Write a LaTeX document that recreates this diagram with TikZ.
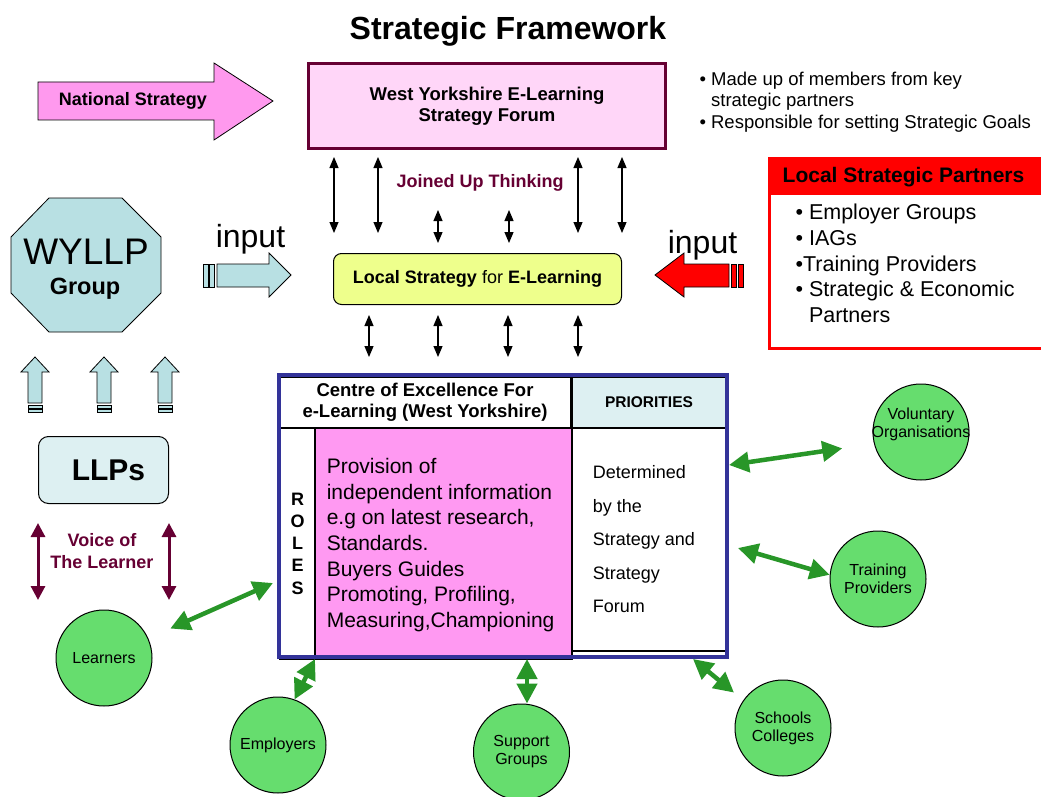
\documentclass[tikz,border=0pt]{standalone}
\usepackage{fontspec}
\setmainfont{Liberation Sans}
\usetikzlibrary{arrows.meta,positioning,calc}

\definecolor{forumpink}{RGB}{255,214,248}
\definecolor{natpink}{RGB}{255,153,238}
\definecolor{wymaroon}{RGB}{102,0,51}
\definecolor{limey}{RGB}{238,255,140}
\definecolor{paleblue}{RGB}{184,224,227}
\definecolor{iceblue}{RGB}{221,240,242}
\definecolor{rolepink}{RGB}{255,153,242}
\definecolor{coeblue}{RGB}{51,51,153}
\definecolor{circgreen}{RGB}{102,221,110}
\definecolor{arrgreen}{RGB}{40,150,40}

\newcommand{\setfs}[2]{\fontsize{#1}{#2}\selectfont}

\tikzstyle{box} = [draw, rectangle, align=center, inner sep=0pt]
\tikzstyle{cell} = [draw, rectangle, line width=1.5pt, inner sep=0pt, align=center]
\tikzstyle{member} = [draw, circle, line width=1pt, fill=circgreen, minimum size=96pt,
    inner sep=0pt, align=center, font=\setfs{16}{18}]
\tikzstyle{duplex} = [<->, line width=1.2pt]
\tikzstyle{greenduplex} = [<->, >={Triangle[length=20pt,width=20pt]}, line width=4.5pt, draw=arrgreen]
\tikzstyle{voiceduplex} = [<->, >={Triangle[length=14pt,width=14pt]}, line width=3pt, draw=wymaroon]
\tikzstyle{blockarrow} = [draw, line width=0.8pt]

\begin{document}
\begin{tikzpicture}[x=1pt, y=-1pt, >={Triangle[length=11pt,width=9pt]}]
    \useasboundingbox (0,0) rectangle (1041,797);

    \node [font=\setfs{32}{36}\bfseries, anchor=base] (title) at (508,40) {Strategic Framework};

    % top row: national strategy, forum, notes
    \draw [blockarrow, fill=natpink] (38,82) -- (214,82) -- (214,63) -- (273,101) -- (214,140) -- (214,120) -- (38,120) -- cycle;
    \node [font=\setfs{18}{21}\bfseries] (national) at (133,101) {National Strategy};
    \node [box, draw=wymaroon, line width=3pt, fill=forumpink, minimum width=357pt, minimum height=85pt,
        font=\setfs{18.5}{21}\bfseries] (forum) at (487,106) {West Yorkshire E-Learning\\Strategy Forum};
    \node [anchor=west, align=left, font=\setfs{18.5}{21.7}] (forumnotes) at (696,102)
        {• Made up of members from key\\\phantom{• }strategic partners\\• Responsible for setting Strategic Goals};

    % local strategic partners
    \node [fill=red, minimum width=290pt, minimum height=36.5pt, anchor=north west, inner sep=0pt, outer sep=0pt] (partnershead) at (769.5,158.5) {};
    \node [draw=red, line width=3pt, minimum width=290pt, minimum height=190pt, anchor=north west, inner sep=0pt, outer sep=0pt] (partners) at (769.5,158.5) {};
    \node [font=\setfs{21}{24}\bfseries] (partnerstitle) at (903.5,177) {Local Strategic Partners};
    \node [anchor=west, align=left, font=\setfs{21.5}{25.7}] (partnerlist) at (792,263.5)
        {• Employer Groups\\• IAGs\\•Training Providers\\• Strategic \& Economic\\\phantom{• }Partners};

    % local strategy and the links to the forum
    \node [font=\setfs{18}{21}\bfseries, text=wymaroon] (joined) at (480,183) {Joined Up Thinking};
    \node [box, rounded corners=8pt, fill=limey, line width=1pt, minimum width=288pt, minimum height=51pt,
        font=\setfs{18}{21}] (local) at (477.5,279) {\textbf{Local Strategy} for \textbf{E-Learning}};
    \foreach \dx in {-153,-109,91,135}
        \draw [duplex] ([xshift=\dx pt, yshift=-7pt]forum.south) -- ([xshift=\dx pt, yshift=20pt]forum.south |- local.north);
    \foreach \dx in {-39.5,31.5}
        \draw [duplex] ([xshift=\dx pt, yshift=43pt]local.north) -- ([xshift=\dx pt, yshift=10pt]local.north);

    % inputs
    \node [font=\setfs{32}{36}, anchor=base] (inleft) at (250.5,247) {input};
    \draw [blockarrow, fill=paleblue] (217,264) -- (269,264) -- (269,253) -- (291,275) -- (269,297) -- (269,287) -- (217,287) -- cycle;
    \draw [blockarrow, fill=paleblue] (203,264) rectangle (208,287);
    \draw [blockarrow, fill=paleblue] (209.5,264) rectangle (214.5,287);
    \node [font=\setfs{32}{36}, anchor=base] (inright) at (702.5,253) {input};
    \draw [blockarrow, fill=red] (729,264) -- (684,264) -- (684,253) -- (655,275) -- (684,297) -- (684,287) -- (729,287) -- cycle;
    \draw [blockarrow, fill=red] (731,264) rectangle (736,287);
    \draw [blockarrow, fill=red] (738,264) rectangle (743,287);

    % WYLLP group and the LLPs
    \draw [blockarrow, fill=paleblue] (49,198) -- (122,198) -- (161,237) -- (161,293) -- (122,332) -- (49,332) -- (11,293) -- (11,237) -- cycle;
    \node [font=\setfs{37}{40}] (wyllp) at (86,252) {WYLLP};
    \node [font=\setfs{23.5}{26}\bfseries] (wyllpgroup) at (85,289) {Group};
    \foreach \x in {35,104,165} {
        \draw [blockarrow, fill=paleblue] (\x-7,403) -- (\x-7,372) -- (\x-14,372) -- (\x,357) -- (\x+14,372) -- (\x+7,372) -- (\x+7,403) -- cycle;
        \draw [blockarrow, fill=paleblue] (\x-7,405) rectangle (\x+7,408);
        \draw [blockarrow, fill=paleblue] (\x-7,409.5) rectangle (\x+7,412.5);
    }
    \node [box, rounded corners=10pt, fill=iceblue, line width=1pt, minimum width=130pt, minimum height=67pt,
        font=\setfs{30}{34}\bfseries] (llps) at (103.5,470) {\hspace*{10pt}LLPs};
    \draw [voiceduplex] ([yshift=-19pt]llps.south west) -- ++(0,77);
    \draw [voiceduplex] ([yshift=-19pt]llps.south east) -- ++(0,77);
    \node [font=\setfs{18}{22}\bfseries, text=wymaroon, align=center] (voice) at (102,551) {Voice of\\The Learner};

    % centre of excellence
    \node [cell, minimum width=292pt, minimum height=51pt, font=\setfs{18.5}{21}\bfseries] (coehead) at (425,402.5)
        {Centre of Excellence For\\e-Learning (West Yorkshire)};
    \node [cell, fill=iceblue, minimum width=154pt, minimum height=51pt, font=\setfs{15.5}{18}\bfseries] (prio) at (649,402.5) {PRIORITIES};
    \node [cell, minimum width=35pt, minimum height=231pt, font=\setfs{18}{22.3}\bfseries] (roles) at (297.5,543.5) {R\\O\\L\\E\\S};
    \node [cell, fill=rolepink, minimum width=257pt, minimum height=231pt] (roleinfo) at (443.5,543.5) {};
    \node [anchor=west, align=left, font=\setfs{21}{25.7}] (roletext) at ([xshift=9pt, yshift=-1.5pt]roleinfo.west)
        {Provision of\\independent information\\e.g on latest research,\\Standards.\\Buyers Guides\\Promoting, Profiling,\\Measuring,Championing};
    \node [cell, minimum width=154pt, minimum height=223pt] (prioinfo) at (649,539.5) {};
    \node [anchor=west, align=left, font=\setfs{18}{33.5}] (priotext) at ([xshift=18pt]prioinfo.west)
        {Determined\\by the\\Strategy and\\Strategy\\Forum};
    \node [draw=coeblue, line width=4pt, minimum width=448pt, minimum height=282pt, inner sep=0pt] (centre) at (503,516) {};
    \foreach \dx in {-108.5,-39.5,30.5,100.5}
        \draw [duplex] ([xshift=\dx pt, yshift=-10pt]local.south) -- ([xshift=\dx pt, yshift=16pt]local.south |- centre.north);

    % partners around the centre
    \node [member] (vol) at (921,432) {};
    \node [font=\setfs{16}{18}, align=center] (voltext) at ([yshift=8pt]vol.center) {Voluntary\\Organisations};
    \node [member] (training) at (878,579) {Training\\Providers};
    \node [member] (learners) at (104,658) {Learners};
    \node [member] (employers) at (278,745) {Employers};
    \node [member] (support) at (521.5,752) {Support\\Groups};
    \node [member] (schools) at (783,728) {Schools\\Colleges};

    \draw [greenduplex, shorten >=24pt] ([shift={(-4,67)}]centre.west) -- (learners.24);
    \draw [greenduplex] ([xshift=38pt]centre.south west) -- (employers.70);
    \draw [greenduplex] ([xshift=24pt]centre.south) -- ([xshift=24pt]centre.south |- support.north);
    \draw [greenduplex, shorten >=12pt] ([xshift=-36pt]centre.south east) -- (schools.145);
    \draw [greenduplex, shorten >=32pt] ([yshift=51pt]centre.east) -- (vol.194);
    \draw [greenduplex] ([shift={(9,32)}]centre.east) -- (training.175);
\end{tikzpicture}
\end{document}
